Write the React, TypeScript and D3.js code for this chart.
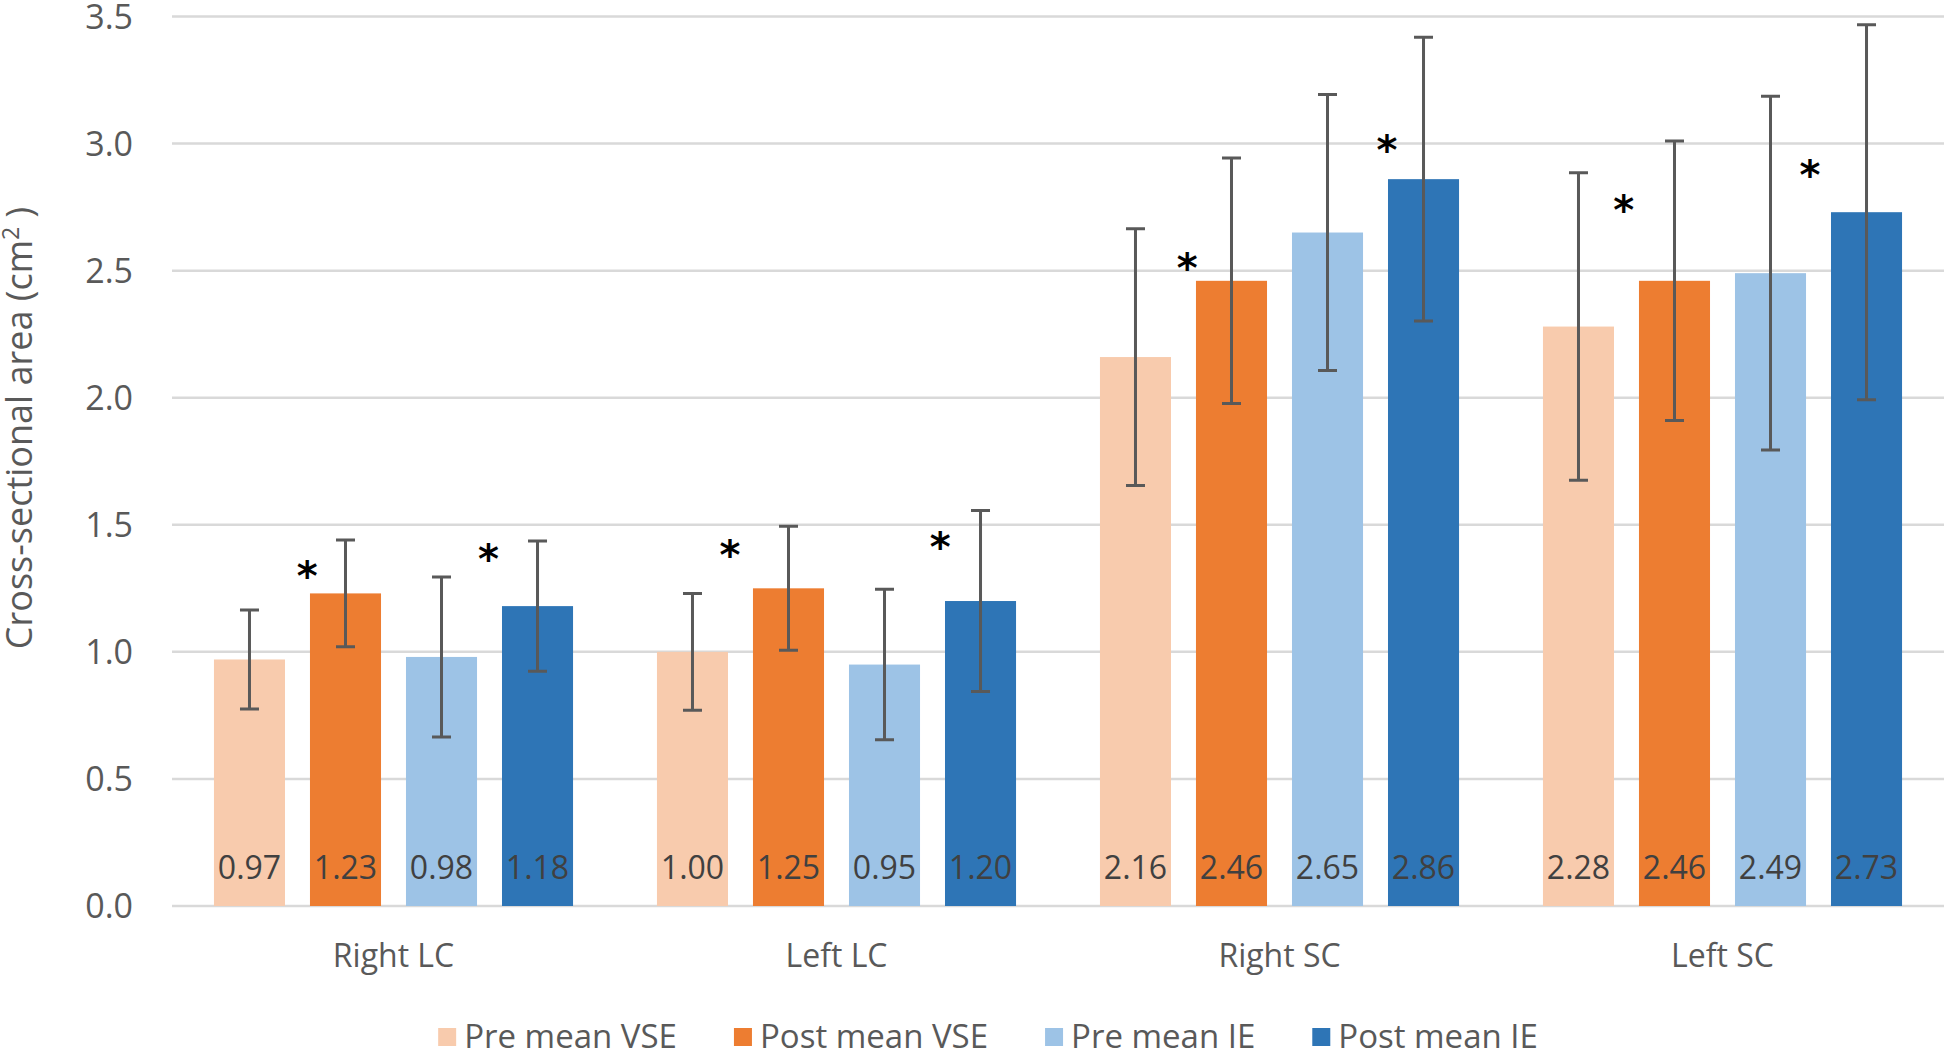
import React, { useEffect, useRef } from "react";
import * as d3 from "d3";

const categories = ["Right LC", "Left LC", "Right SC", "Left SC"];
const seriesNames = ["Pre mean VSE", "Post mean VSE", "Pre mean IE", "Post mean IE"];
const seriesColors = ["#F8CBAD", "#ED7D31", "#9DC3E6", "#2E75B6"];

const preVSE = [0.97, 1.0, 2.16, 2.28];
const postVSE = [1.23, 1.25, 2.46, 2.46];
const preIE = [0.98, 0.95, 2.65, 2.49];
const postIE = [1.18, 1.2, 2.86, 2.73];

const preVSEsd = [0.195, 0.23, 0.505, 0.605];
const postVSEsd = [0.21, 0.244, 0.483, 0.55];
const preIEsd = [0.315, 0.296, 0.543, 0.696];
const postIEsd = [0.256, 0.356, 0.558, 0.738];

const yTicks = [0, 0.5, 1.0, 1.5, 2.0, 2.5, 3.0, 3.5];

// significance markers: category, position in bar-slot units (0 = first bar centre), value
const asteriskCats = ["Right LC", "Right LC", "Left LC", "Left LC", "Right SC", "Right SC", "Left SC", "Left SC"];
const asteriskPos = [0.6, 2.49, 0.39, 2.58, 0.54, 2.62, 0.47, 2.41];
const asteriskVals = [1.336, 1.404, 1.42, 1.453, 2.548, 3.013, 2.777, 2.915];

const W = 1946;
const H = 1053;
const FONT = "'Open Sans', sans-serif";

export default function App() {
  const ref = useRef<SVGSVGElement | null>(null);

  useEffect(() => {
    const svg = d3.select(ref.current);
    svg.selectAll("*").remove();

    const means = [preVSE, postVSE, preIE, postIE];
    const sds = [preVSEsd, postVSEsd, preIEsd, postIEsd];
    const rows: any[] = [];
    categories.forEach((c, ci) => {
      seriesNames.forEach((s, si) => {
        rows.push({ cat: c, series: s, si, v: means[si][ci], sd: sds[si][ci] });
      });
    });

    const y = d3.scaleLinear().domain([0, 3.5]).range([906, 16.5]);
    const x0 = d3.scaleBand<string>().domain(categories).range([172, 1944]).padding(0);
    const x1 = d3
      .scaleBand<string>()
      .domain(seriesNames)
      .range([0, x0.bandwidth()])
      .paddingInner(0.26)
      .paddingOuter(0.437);

    // gridlines
    svg
      .append("g")
      .selectAll("line")
      .data(yTicks)
      .join("line")
      .attr("x1", 172)
      .attr("x2", 1944)
      .attr("y1", (d) => y(d))
      .attr("y2", (d) => y(d))
      .attr("stroke", "#D9D9D9")
      .attr("stroke-width", 2.5);

    // y tick labels
    svg
      .append("g")
      .selectAll("text")
      .data(yTicks)
      .join("text")
      .attr("x", 133)
      .attr("y", (d) => y(d) + 12)
      .attr("text-anchor", "end")
      .attr("font-family", FONT)
      .attr("font-size", 34)
      .attr("fill", "#595959")
      .text((d) => d3.format(".1f")(d));

    // y title
    const title = svg
      .append("text")
      .attr("transform", `translate(${32},${428}) rotate(-90)`)
      .attr("text-anchor", "middle")
      .attr("font-family", FONT)
      .attr("font-size", 36)
      .attr("fill", "#595959");
    title.append("tspan").text("Cross-sectional area (cm");
    title.append("tspan").attr("font-size", 23).attr("dy", -13).text("2");
    title.append("tspan").attr("dy", 13).text(" )");

    // bars
    const g = svg.append("g");
    g.selectAll("rect")
      .data(rows)
      .join("rect")
      .attr("x", (d) => x0(d.cat)! + x1(d.series)!)
      .attr("y", (d) => y(d.v))
      .attr("width", x1.bandwidth())
      .attr("height", (d) => y(0) - y(d.v))
      .attr("fill", (d) => seriesColors[d.si]);

    // value labels
    g.selectAll("text.val")
      .data(rows)
      .join("text")
      .attr("class", "val")
      .attr("x", (d) => x0(d.cat)! + x1(d.series)! + x1.bandwidth() / 2)
      .attr("y", y(0) - 27)
      .attr("text-anchor", "middle")
      .attr("font-family", FONT)
      .attr("font-size", 32)
      .attr("fill", "#404040")
      .text((d) => d3.format(".2f")(d.v));

    // error bars
    const eb = svg.append("g").attr("stroke", "#595959").attr("stroke-width", 3).attr("fill", "none");
    const cx = (d: any) => x0(d.cat)! + x1(d.series)! + x1.bandwidth() / 2;
    eb.selectAll("path")
      .data(rows)
      .join("path")
      .attr("d", (d) => {
        const xc = cx(d);
        const t = y(d.v + d.sd);
        const b = y(d.v - d.sd);
        const cw = 9.5;
        return `M${xc},${t}V${b}M${xc - cw},${t}H${xc + cw}M${xc - cw},${b}H${xc + cw}`;
      });

    // asterisks
    svg
      .append("g")
      .selectAll("text")
      .data(asteriskCats.map((c, i) => ({ cat: c, pos: asteriskPos[i], v: asteriskVals[i] })))
      .join("text")
      .attr("x", (d) => x0(d.cat)! + x1(seriesNames[0])! + x1.bandwidth() / 2 + d.pos * x1.step())
      .attr("y", (d) => y(d.v) + 24)
      .attr("text-anchor", "middle")
      .attr("font-family", "'DejaVu Sans', sans-serif")
      .attr("font-weight", "bold")
      .attr("font-size", 40)
      .attr("fill", "#000")
      .text("*");

    // category labels
    svg
      .append("g")
      .selectAll("text")
      .data(categories)
      .join("text")
      .attr("x", (d) => x0(d)! + x0.bandwidth() / 2)
      .attr("y", 967)
      .attr("text-anchor", "middle")
      .attr("font-family", FONT)
      .attr("font-size", 32)
      .attr("fill", "#595959")
      .text((d) => d);

    // legend
    const lg = svg.append("g");
    const items = lg
      .selectAll("g")
      .data(seriesNames)
      .join("g");
    items
      .append("rect")
      .attr("width", 18)
      .attr("height", 18)
      .attr("y", 1028)
      .attr("fill", (_d, i) => seriesColors[i]);
    items
      .append("text")
      .attr("x", 26)
      .attr("y", 1048)
      .attr("font-family", FONT)
      .attr("font-size", 33)
      .attr("fill", "#595959")
      .text((d) => d);
    const widths: number[] = [];
    items.each(function () {
      const t = d3.select(this).select("text").node() as SVGTextElement;
      widths.push(26 + t.getComputedTextLength());
    });
    const gap = 57;
    const total = d3.sum(widths) + gap * (widths.length - 1);
    let xs = 988 - total / 2;
    items.attr("transform", (_d, i) => {
      const tx = xs;
      xs += widths[i] + gap;
      return `translate(${tx},0)`;
    });
  }, []);

  return (
    <div style={{ position: "absolute", left: 0, top: 0 }}>
      <svg ref={ref} width={W} height={H} style={{ display: "block", background: "#fff" }} />
    </div>
  );
}
